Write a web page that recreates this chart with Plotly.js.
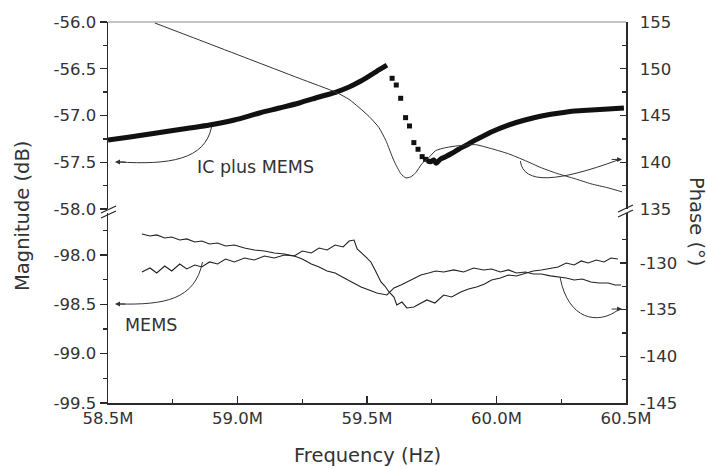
<!DOCTYPE html>
<html>
<head>
<meta charset="utf-8">
<script src="https://cdn.plot.ly/plotly-3.0.1.min.js"></script>
<style>html,body{margin:0;padding:0;background:#fff;}#chart{width:707px;height:468px;}</style>
</head>
<body>
<div id="chart"></div>
<script>
// ---------- DATA (frequency in MHz) ----------
// IC plus MEMS magnitude (dB), rising part
const icFreqRise = [58.500,58.585,58.662,58.738,58.815,58.892,58.988,59.085,59.162,59.238,59.315,59.381,59.431,59.469,59.508,59.546,59.577];
const icMagRise  = [-57.262,-57.230,-57.198,-57.166,-57.134,-57.102,-57.048,-56.973,-56.920,-56.866,-56.802,-56.749,-56.695,-56.642,-56.578,-56.513,-56.460];
// IC plus MEMS magnitude (dB), fast drop (sparse points)
const icFreqDrop = [59.597,59.613,59.630,59.649,59.664,59.681,59.697,59.713,59.726];
const icMagDrop  = [-56.602,-56.674,-56.816,-57.023,-57.112,-57.290,-57.361,-57.440,-57.469];
// IC plus MEMS magnitude (dB), recovery
const icFreqRec = [59.732,59.745,59.758,59.767,59.783,59.803,59.828,59.854,59.892,59.918,59.957,59.982,60.046,60.110,60.174,60.238,60.303,60.367,60.431,60.492];
const icMagRec  = [-57.483,-57.494,-57.476,-57.511,-57.468,-57.441,-57.404,-57.361,-57.305,-57.262,-57.209,-57.173,-57.102,-57.048,-57.005,-56.976,-56.952,-56.941,-56.930,-56.920];
// IC plus MEMS phase (deg)
const icPhaseFreq = [58.681,58.854,59.046,59.238,59.381,59.431,59.469,59.508,59.546,59.573,59.604,59.631,59.650,59.669,59.688,59.712,59.738,59.765,59.804,59.854,59.919,59.981,60.046,60.112,60.173,60.238,60.304,60.365,60.431,60.485];
const icPhase     = [154.89,153.06,151.02,148.98,147.47,146.72,145.86,144.89,143.71,142.31,140.16,138.76,138.33,138.44,138.87,139.84,140.48,141.24,141.56,141.77,141.88,141.45,140.91,140.16,139.41,138.76,138.23,137.69,137.26,136.83];
// MEMS magnitude (dB)
const memsMagFreq = [58.631,58.662,58.688,58.719,58.746,58.777,58.804,58.835,58.862,58.892,58.923,58.954,58.988,59.027,59.065,59.104,59.142,59.181,59.219,59.250,59.285,59.315,59.346,59.377,59.408,59.431,59.450,59.462,59.488,59.515,59.535,59.554,59.569,59.585,59.604,59.615,59.635,59.654,59.681,59.704,59.731,59.762,59.796,59.827,59.862,59.892,59.923,59.954,59.981,60.015,60.046,60.077,60.112,60.142,60.173,60.208,60.238,60.269,60.300,60.327,60.354,60.385,60.415,60.442,60.469];
const memsMag     = [-98.173,-98.132,-98.183,-98.112,-98.163,-98.092,-98.142,-98.102,-98.122,-98.071,-98.092,-98.041,-98.071,-98.031,-98.051,-98.011,-98.031,-98.001,-98.011,-97.960,-97.980,-97.930,-97.950,-97.899,-97.919,-97.859,-97.849,-97.940,-98.001,-98.071,-98.173,-98.274,-98.315,-98.375,-98.426,-98.507,-98.477,-98.537,-98.527,-98.497,-98.456,-98.487,-98.406,-98.426,-98.375,-98.345,-98.325,-98.294,-98.254,-98.234,-98.203,-98.213,-98.183,-98.163,-98.152,-98.132,-98.122,-98.082,-98.102,-98.061,-98.082,-98.051,-98.071,-98.031,-98.041];
// MEMS phase (deg)
const memsPhaseFreq = [58.631,58.662,58.688,58.719,58.746,58.777,58.804,58.835,58.862,58.892,58.923,58.954,58.988,59.027,59.065,59.104,59.142,59.181,59.219,59.250,59.285,59.315,59.346,59.377,59.412,59.442,59.477,59.508,59.538,59.577,59.604,59.631,59.654,59.681,59.708,59.738,59.765,59.796,59.835,59.873,59.912,59.950,59.981,60.015,60.046,60.077,60.112,60.142,60.173,60.208,60.238,60.269,60.300,60.331,60.365,60.396,60.431,60.458,60.481];
const memsPhase     = [-126.89,-127.10,-126.99,-127.32,-127.21,-127.53,-127.42,-127.74,-127.64,-127.96,-127.85,-128.17,-128.07,-128.39,-128.60,-128.71,-128.92,-129.03,-129.24,-129.57,-130.10,-130.42,-130.85,-131.07,-131.60,-132.03,-132.57,-132.89,-133.21,-133.42,-132.67,-132.35,-132.03,-131.71,-131.28,-131.07,-130.85,-130.96,-130.74,-130.96,-130.53,-130.74,-130.64,-130.96,-130.74,-131.07,-130.96,-131.17,-131.17,-131.38,-131.50,-131.60,-131.82,-131.71,-132.03,-132.14,-132.14,-132.35,-132.35];

// Tick labels
const xTickVals = [58.5,59.0,59.5,60.0,60.5];
const xTickText = ['58.5M','59.0M','59.5M','60.0M','60.5M'];
const magTopVals = [-56.0,-56.5,-57.0,-57.5,-58.0];
const magTopText = ['-56.0','-56.5','-57.0','-57.5','-58.0'];
const magBotVals = [-98.0,-98.5,-99.0,-99.5];
const magBotText = ['-98.0','-98.5','-99.0','-99.5'];
const phTopVals = [155,150,145,140,135];
const phTopText = ['155','150','145','140','135'];
const phBotVals = [-130,-135,-140,-145];
const phBotText = ['-130','-135','-140','-145'];

// ---------- STYLE ----------
const FONT = 'DejaVu Sans, Liberation Sans, Arial, sans-serif';
const TXT = '#333333';
const AX = '#2a2a2a';
const tickFont = {family: FONT, size: 16.5, color: TXT};

const traces = [
  {x: icFreqRise, y: icMagRise, xaxis:'x', yaxis:'y', mode:'lines', line:{color:'#111', width:5, shape:'spline', smoothing:0.8}, hoverinfo:'skip'},
  {x: icFreqDrop, y: icMagDrop, xaxis:'x', yaxis:'y', mode:'markers', marker:{symbol:'square', size:5, color:'#111'}, hoverinfo:'skip'},
  {x: icFreqRec, y: icMagRec, xaxis:'x', yaxis:'y', mode:'lines', line:{color:'#111', width:5, shape:'spline', smoothing:0.8}, hoverinfo:'skip'},
  {x: icPhaseFreq, y: icPhase, xaxis:'x', yaxis:'y2', mode:'lines', line:{color:'#333', width:1, shape:'spline', smoothing:0.6}, hoverinfo:'skip'},
  {x: memsMagFreq, y: memsMag, xaxis:'x', yaxis:'y3', mode:'lines', line:{color:'#222', width:1.1}, hoverinfo:'skip'},
  {x: memsPhaseFreq, y: memsPhase, xaxis:'x', yaxis:'y4', mode:'lines', line:{color:'#222', width:1.1}, hoverinfo:'skip'}
];

const topDom = [0.5092, 1];
const botDom = [0, 0.4987];

const leftAxis = (dom, range, vals, text, minorVals) => ({
  domain: dom, range: range, anchor:'x', side:'left',
  tickmode:'array', tickvals: vals, ticktext: text,
  ticks:'outside', ticklen:7, tickwidth:1.3, tickcolor: AX,
  minor:{tickmode:'array', tickvals:minorVals, ticks:'outside', ticklen:4, tickwidth:1.3, tickcolor:AX},
  showline:true, linecolor:AX, linewidth:1.5, showgrid:false, zeroline:false,
  tickfont: tickFont, fixedrange:true
});
const rightAxis = (ov, range, vals, text, minorVals) => ({
  overlaying: ov, range: range, anchor:'x', side:'right',
  tickmode:'array', tickvals: vals, ticktext: text,
  ticks:'inside', ticklen:6, tickwidth:1.3, tickcolor: AX,
  minor:{tickmode:'array', tickvals:minorVals, ticks:'inside', ticklen:4, tickwidth:1.3, tickcolor:AX},
  ticklabelstandoff: 9,
  showline:true, linecolor:AX, linewidth:1.5, showgrid:false, zeroline:false,
  tickfont: tickFont, fixedrange:true
});

// helpers for paper coords (plot area px: x 108..626, y 22..403)
const PX = v => (v-108)/518, PY = v => (403-v)/381;
const seg = (x0,y0,x1,y1) => ({type:'line', xref:'paper', yref:'paper', x0:PX(x0), y0:PY(y0), x1:PX(x1), y1:PY(y1), line:{color:AX, width:1.3}});

const shapes = [
  // top border
  {type:'line', xref:'paper', yref:'paper', x0:0, x1:1, y0:1, y1:1, line:{color:'#8a8a8a', width:1.2}},
  // break marks left
  seg(101,213,116,206), seg(101,218,116,211),
  // break marks right
  seg(618,212,633,205), seg(618,217,633,210),
  // curved arrows
  {type:'path', xref:'x', yref:'y', path:'M 58.900,-57.123 C 58.873,-57.476 58.738,-57.529 58.538,-57.497', line:{color:'#333', width:1}},
  {type:'path', xref:'x', yref:'y', path:'M 60.092,-57.487 C 60.104,-57.743 60.238,-57.711 60.469,-57.476', line:{color:'#333', width:1}},
  {type:'path', xref:'x', yref:'y3', path:'M 58.865,-98.071 C 58.835,-98.456 58.719,-98.507 58.538,-98.497', line:{color:'#333', width:1}},
  {type:'path', xref:'x', yref:'y3', path:'M 60.246,-98.233 C 60.277,-98.659 60.392,-98.710 60.469,-98.558', line:{color:'#333', width:1}}
];

const arrowHead = (x, y, yref, ax) => ({x:x, y:y, xref:'x', yref:yref, text:'', showarrow:true, arrowhead:2, arrowsize:1, arrowwidth:1, arrowcolor:'#333', ax:ax, ay:0});

const annotations = [
  arrowHead(58.527, -57.497, 'y', 12),
  arrowHead(60.485, -57.470, 'y', -12),
  arrowHead(58.527, -98.497, 'y3', 12),
  arrowHead(60.485, -98.548, 'y3', -12),
  {x:59.069, y:-57.551, xref:'x', yref:'y', text:'IC plus MEMS', showarrow:false, xanchor:'center', yanchor:'middle', font:{family:FONT, size:17.5, color:TXT}},
  {x:58.665, y:-98.710, xref:'x', yref:'y3', text:'MEMS', showarrow:false, xanchor:'center', yanchor:'middle', font:{family:FONT, size:17.5, color:TXT}},
  {x:PX(22), y:PY(216), xref:'paper', yref:'paper', text:'Magnitude (dB)', textangle:-90, showarrow:false, xanchor:'center', yanchor:'middle', font:{family:FONT, size:19.5, color:TXT}},
  {x:PX(697), y:PY(221), xref:'paper', yref:'paper', text:'Phase (°)', textangle:90, showarrow:false, xanchor:'center', yanchor:'middle', font:{family:FONT, size:19.5, color:TXT}},
  {x:0.5, y:PY(456), xref:'paper', yref:'paper', text:'Frequency (Hz)', showarrow:false, xanchor:'center', yanchor:'middle', font:{family:FONT, size:19.5, color:TXT}}
];

const layout = {
  width:707, height:468,
  margin:{l:108, r:81, t:22, b:65, pad:0},
  paper_bgcolor:'#fff', plot_bgcolor:'#fff',
  showlegend:false,
  xaxis:{
    range:[58.5, 60.5], anchor:'y3', domain:[0,1],
    tickmode:'array', tickvals:xTickVals, ticktext:xTickText,
    ticks:'inside', ticklen:7, tickwidth:1.3, tickcolor:AX,
    minor:{tickmode:'linear', tick0:58.5, dtick:0.25, ticks:'inside', ticklen:4, tickwidth:1.3, tickcolor:AX},
    showline:true, linecolor:AX, linewidth:1.5, showgrid:false, zeroline:false,
    tickfont: tickFont, fixedrange:true
  },
  yaxis: leftAxis(topDom, [-58, -56], magTopVals, magTopText, [-56.25,-56.75,-57.25,-57.75]),
  yaxis2: rightAxis('y', [135, 155], phTopVals, phTopText, [152.5,147.5,142.5,137.5]),
  yaxis3: leftAxis(botDom, [-99.5, -97.575], magBotVals, magBotText, [-99.25,-98.75,-98.25,-97.75]),
  yaxis4: rightAxis('y3', [-145, -124.64], phBotVals, phBotText, [-142.5,-137.5,-132.5,-127.5]),
  shapes: shapes,
  annotations: annotations
};

Plotly.newPlot('chart', traces, layout, {staticPlot:true, displayModeBar:false});
</script>
</body>
</html>
